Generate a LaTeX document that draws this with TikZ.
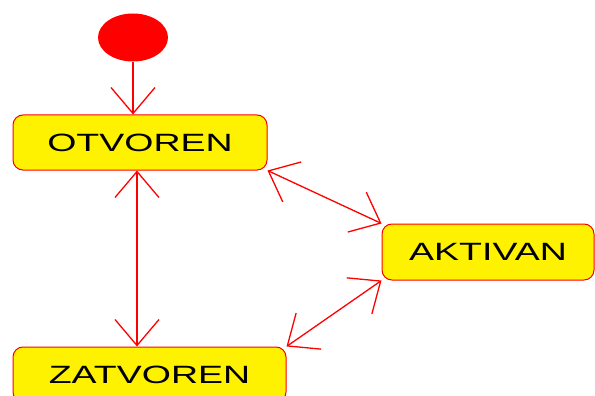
\documentclass[tikz,border=0pt]{standalone}
\usepackage{fontspec}
\setmainfont{Liberation Sans}
\usetikzlibrary{arrows.meta,shapes.geometric}
\newcommand{\wide}[1]{\scalebox{1.5}[1]{#1}}

\begin{document}
\begin{tikzpicture}[
      x=1pt, y=-1pt,
      line width=1.3pt,
      >={Straight Barb[length=26pt,width=44pt]},
      state/.style={draw=red, line width=1pt, fill=yellow, rounded corners=10pt,
        minimum height=55pt, inner sep=0pt, font=\fontsize{25}{30}\selectfont},
      wire/.style={red, <->}]

    % page
    \clip (0,0) rectangle (595,396);

    % initial state
    \node (start) at (133,37.5) [ellipse, fill=red, minimum width=70pt,
      minimum height=48pt, inner sep=0pt] {};

    % states
    \node (otvoren) at (140,142.5) [state, minimum width=254pt] {\wide{OTVOREN}};
    \node (aktivan) at (488,252) [state, minimum width=212pt, minimum height=56pt] {\wide{AKTIVAN}};
    \node (zatvoren) at (149.5,374.5) [state, minimum width=273pt] {\wide{ZATVOREN}};

    % transitions
    \draw[red, ->] (start) -- (start |- otvoren.north);
    \draw[wire] ([xshift=-3pt]otvoren.south) -- ([xshift=-3pt]otvoren.south |- zatvoren.north);
    \draw[wire] (otvoren.south east) -- (aktivan.north west);
    \draw[wire] (aktivan.south west) -- (zatvoren.north east);

  \end{tikzpicture}
\end{document}
